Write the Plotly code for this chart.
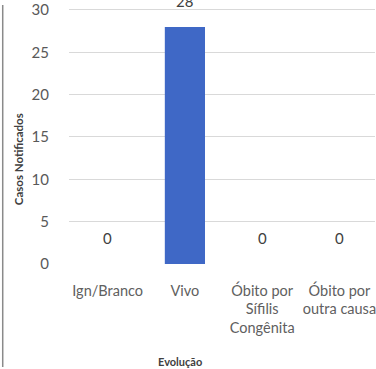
import plotly.graph_objects as go

categories = ["Ign/Branco", "Vivo", "Óbito por<br>Sífilis<br>Congênita", "Óbito por<br>outra causa"]
values = [0, 28, 0, 0]
y_ticks = [0, 5, 10, 15, 20, 25, 30]

W, H = 376, 369
L, R, T, B = 69, 376, 3, 264
pw, ph = R - L, B - T
y_top = 30 + 2 / (259 / 30)

def px_x(p):
    return (p - L) / pw

def px_y(p):
    return (B - p) / ph

fig = go.Figure()
fig.add_trace(go.Bar(
    x=categories, y=values,
    marker=dict(color="#3f68c6", line=dict(width=0)),
    width=0.52,
))

annotations = []
for c, v in zip(categories, values):
    annotations.append(dict(x=c, y=v, xref="x", yref="y", text=str(v), showarrow=False,
                            yshift=26, font=dict(size=15, color="#404040", family="Lato")))
annotations.append(dict(x=px_x(180), y=px_y(363), xref="paper", yref="paper", text="<b>Evolução</b>",
                        showarrow=False, xanchor="center", yanchor="middle",
                        font=dict(size=11, color="#404040", family="Lato")))
annotations.append(dict(x=px_x(18), y=px_y(157), xref="paper", yref="paper", text="<b>Casos Notificados</b>",
                        showarrow=False, xanchor="center", yanchor="middle", textangle=-90,
                        font=dict(size=11.5, color="#404040", family="Lato")))

fig.update_layout(
    width=W, height=H,
    margin=dict(l=L, r=W - R, t=T, b=H - B, pad=0),
    paper_bgcolor="white", plot_bgcolor="white",
    showlegend=False,
    annotations=annotations,
    shapes=[dict(type="line", xref="paper", yref="paper", x0=px_x(2.5), x1=px_x(2.5),
                 y0=px_y(0), y1=px_y(369), line=dict(color="#8a8a8a", width=1.5))],
    xaxis=dict(range=[-0.5, 3.46], showgrid=False, zeroline=False, showline=False,
               tickfont=dict(size=14.5, color="#606060", family="Lato"), ticks="",
               ticklabelstandoff=16, ticklabeloverflow="allow"),
    yaxis=dict(range=[0, y_top], tickvals=y_ticks, showgrid=True, gridcolor="#d9d9d9", gridwidth=1,
               zeroline=False, showline=False, ticks="", ticklabeloverflow="allow",
               tickfont=dict(size=15, color="#595959", family="Lato"), ticklabelstandoff=19),
)

fig.write_html("out.html")
